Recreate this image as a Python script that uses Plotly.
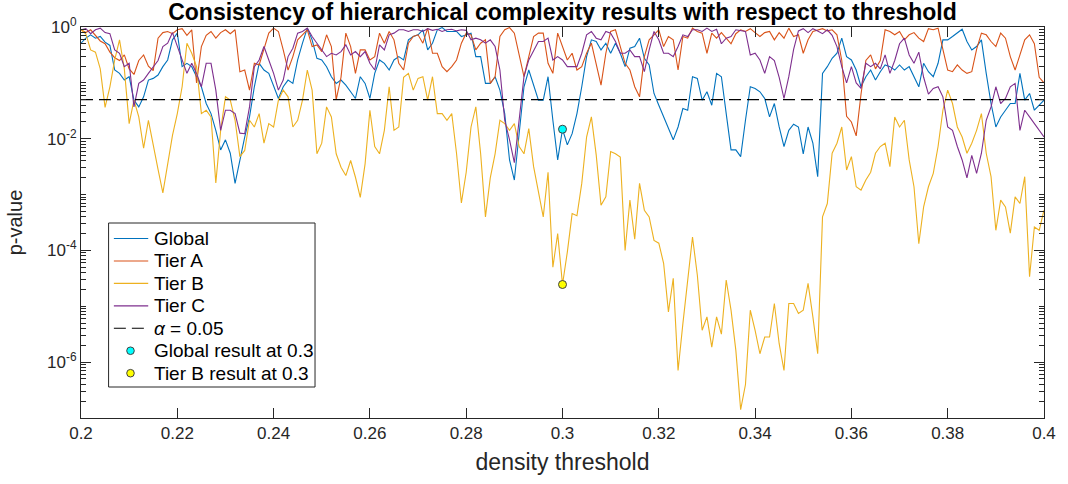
import numpy as np
import plotly.graph_objects as go

# density thresholds, step 0.001
threshold = np.round(np.linspace(0.2, 0.4, 201), 3)

# log10 of the p-values for each network level
global_log10p = [
    -0.29, -0.20, -0.14, -0.20, -0.17, -0.27, -0.33, -0.77, -0.83, -0.95,
    -0.89, -1.31, -1.43, -1.25, -0.95, -0.92, -0.86, -0.71, -0.59, -0.23,
    -0.11, -0.71, -0.65, -0.71, -0.89, -1.07, -1.37, -1.55, -1.85, -2.20,
    -2.02, -2.26, -2.80, -2.38,
    -1.97, -1.61, -1.07, -0.65, -0.77, -0.83, -1.07, -1.28, -1.07, -0.95,
    -1.01, -0.59, -0.29, -0.02, -0.23, -0.56, -0.59, -0.71, -0.89, -1.01,
    -0.95, -1.04, -1.16, -1.28, -0.89, -1.01, -1.28, -0.83, -0.59, -0.65,
    -0.77, -0.59, -0.53,
    -0.59, -0.23, -0.17, -0.14, -0.05, -0.41, -0.29, -0.05, -0.01, -0.08,
    -0.08, -0.08, -0.17, -0.14, -0.11, -0.53, -0.53, -1.01, -1.01, -0.89,
    -1.13, -1.55, -2.38, -2.74, -1.91, -1.07, -0.77, -1.04, -1.31, -1.31,
    -0.89, -1.67, -2.38,
    -1.83, -2.11, -1.91, -1.55, -1.07, -0.53, -0.23, -0.26, -0.41, -0.29,
    -0.47, -0.29, -0.47, -0.71, -0.38, -0.35, -0.20, -0.56, -0.68, -1.19,
    -1.40, -1.61, -1.79, -2.02, -1.79, -1.46, -1.49, -0.89, -0.92, -1.31,
    -1.16, -1.40, -0.83,
    -0.89, -1.55, -2.20, -2.20, -2.32, -1.67, -1.07, -1.10, -1.16, -1.28,
    -1.61, -1.37, -1.79, -2.14, -1.85, -1.74, -1.79, -2.27, -1.79, -2.08,
    -2.68, -0.83, -0.71, -0.56, -0.47, -0.20, -0.53, -0.59, -0.77, -1.07,
    -0.89, -0.77, -0.95,
    -0.80, -0.68, -0.71, -0.77, -0.68, -0.77, -0.71, -0.89, -1.07, -0.65,
    -0.80, -0.89, -0.65, -0.23, -0.23, -0.17, -0.11, -0.04, -0.26, -0.41,
    -0.35, -0.23, -0.83, -1.37, -1.79, -1.61, -1.49, -1.37, -1.37, -0.83,
    -1.31, -1.19, -1.49, -1.40, -1.31,
]

tier_a_log10p = [
    -0.05, -0.10, -0.05, -0.15, -0.25, -0.30, -0.45, -0.55, -0.60, -0.50,
    -0.75, -0.85, -0.60, -0.50, -0.70, -0.78, -0.20, -0.10, -0.08, -0.12,
    -0.05, -0.03, -0.15, -0.05, -1.00, -0.35, -0.15, -0.08, -0.20, -0.10,
    -0.05, -0.12, -0.05, -0.80,
    -0.77, -1.13, -0.65, -0.68, -0.41, -0.11, -0.02, -0.08, -0.41, -0.77,
    -0.53, -0.23, -0.14, -0.05, -0.35, -0.32, -0.44, -0.14, -0.35, -1.30,
    -0.90, -0.11, -0.35, -0.83, -0.41, -0.41, -0.59, -0.53, -0.11, -0.29,
    -0.08, -0.23, -0.65,
    -0.77, -0.29, -0.17, -0.14, -0.29, -0.02, -0.47, -0.47, -0.71, -0.80,
    -0.71, -0.59, -0.29, -0.11, -0.14, -0.41, -0.29, -0.23, -1.01, -0.89,
    -0.17, -0.05, -0.01, -0.11, -0.53, -0.89, -0.53, -0.17, -0.11, -0.11,
    -0.65, -0.83, -0.11,
    -0.35, -0.59, -0.47, -0.77, -0.71, -0.47, -0.29, -0.65, -1.04, -0.47,
    -0.08, -0.05, -0.35, -0.65, -0.77, -1.07, -1.25, -0.53, -0.23, -0.14,
    -0.05, -0.35, -0.17, -0.23, -0.77, -0.17, -0.20, -0.02, -0.08, -0.11,
    -0.47, -0.11, -0.20,
    -0.10, -0.20, -0.30, -0.12, -0.05, -0.08, -0.03, -0.10, -0.17, -0.10,
    -0.08, -0.23, -0.10, -0.20, -0.02, -0.17, -0.14, -0.47, -0.23, -0.08,
    -0.06, -0.03, -0.07, -0.05, -0.14, -0.60, -1.60, -1.70, -1.95, -1.20,
    -0.60, -0.50, -0.75,
    -0.60, -0.05, -0.08, -0.14, -0.08, -0.23, -0.14, -0.10, -0.20, -0.26,
    -0.03, -0.05, -0.02, -0.40, -0.77, -0.80, -0.68, -0.77, -0.83, -0.80,
    -0.40, -0.11, -0.14, -0.26, -0.35, -0.11, -0.20, -0.53, -0.77, -0.50,
    -0.23, -0.14, -0.30, -0.90, -1.00,
]

tier_b_log10p = [
    -0.05, -0.12, -0.41, -0.45, -0.75, -1.44, -1.07, -0.59, -0.23, -0.75,
    -1.73, -1.31, -1.61, -2.17, -1.67, -2.14, -2.55, -2.97, -2.47, -1.94,
    -1.55, -1.07, -0.29, -0.47, -0.71, -1.55, -1.49, -1.61, -2.79, -1.85,
    -1.25, -1.31, -1.67, -2.32,
    -2.21, -1.67, -1.79, -1.55, -2.08, -1.73, -1.79, -1.31, -1.13, -1.25,
    -1.79, -1.67, -1.31, -0.77, -1.13, -2.27, -2.08, -1.43, -1.61, -2.27,
    -2.51, -2.66, -2.39, -2.69, -3.05, -2.45, -1.49, -2.14, -2.27, -1.85,
    -1.07, -1.85, -1.79,
    -0.90, -0.83, -1.13, -0.92, -0.89, -1.31, -0.89, -1.55, -1.55, -1.67,
    -1.55, -2.27, -3.15, -2.60, -1.79, -1.43, -2.27, -3.40, -2.70, -2.27,
    -1.67, -1.73, -1.85, -1.73, -2.14, -2.27, -1.82, -2.50, -2.92, -3.40,
    -2.60, -4.30, -3.70,
    -4.61, -4.03, -3.34, -3.38, -2.80, -1.97, -1.61, -2.29, -3.19, -3.04,
    -2.23, -2.27, -2.33, -4.00, -3.10, -3.80, -2.80, -3.28, -3.40, -3.82,
    -3.87, -4.23, -5.10, -4.50, -6.15, -5.31, -4.59, -3.76, -4.44, -5.43,
    -5.19, -5.73, -5.19,
    -5.50, -4.53, -5.07, -5.79, -6.85, -6.40, -5.07, -5.43, -5.85, -5.55,
    -5.55, -4.95, -5.67, -6.15, -4.95, -4.95, -5.13, -5.07, -4.59, -5.19,
    -5.85, -3.40, -3.16, -2.26, -2.08, -1.79, -2.56, -2.32, -2.86, -2.92,
    -2.74, -2.60, -2.26,
    -2.14, -2.08, -2.50, -1.61, -1.79, -1.67, -2.38, -2.86, -3.88, -3.22,
    -2.86, -2.62, -2.14, -1.49, -1.13, -1.37, -1.79, -1.97, -2.26, -2.08,
    -1.85, -1.55, -2.26, -2.68, -3.64, -3.10, -3.22, -3.69, -3.04, -3.16,
    -2.68, -4.47, -3.58, -3.64, -3.28,
]

tier_c_log10p = [
    -0.05, -0.03, -0.12, -0.05, -0.02, -0.10, -0.12, -0.41, -0.47, -0.71,
    -0.65, -1.43, -1.01, -0.95, -0.83, -0.71, -0.60, -0.35, -0.29, -0.10,
    -0.35, -0.59, -0.83, -0.65, -0.83, -1.07, -0.65, -0.65, -1.13, -1.85,
    -1.49, -1.49, -1.55, -1.90,
    -1.91, -1.43, -0.71, -0.59, -0.35, -0.59, -0.83, -1.13, -0.95, -0.53,
    -0.38, -0.11, -0.08, -0.02, -0.17, -0.29, -0.41, -0.53, -0.47, -0.50,
    -0.44, -0.32, -0.50, -0.44, -0.53, -0.44, -0.65, -0.77, -0.32, -0.41,
    -0.14, -0.11, -0.05,
    -0.05, -0.08, -0.05, -0.05, -0.08, -0.03, -0.06, -0.04, -0.08, -0.05,
    -0.04, -0.07, -0.05, -0.06, -0.23, -0.20, -0.23, -0.29, -0.23, -0.35,
    -0.77, -1.67, -2.02, -2.43, -1.67, -0.89, -0.59, -0.41, -0.26, -0.26,
    -0.20, -0.59, -0.53,
    -0.59, -0.71, -0.71, -0.71, -0.47, -0.14, -0.08, -0.20, -0.23, -0.08,
    -0.11, -0.26, -0.47, -0.47, -0.41, -0.53, -0.53, -0.80, -0.41, -0.08,
    -0.23, -0.47, -0.47, -0.53, -0.35, -0.14, -0.17, -0.05, -0.05, -0.08,
    -0.02, -0.08, -0.04,
    -0.30, -0.20, -0.17, -0.05, -0.07, -0.08, -0.50, -0.47, -0.59, -0.83,
    -0.53, -0.60, -0.90, -1.28, -0.89, -0.40, -0.07, -0.03, -0.10, -0.03,
    -0.07, -0.12, -0.05, -0.15, -0.35, -0.71, -1.00, -0.71, -1.00, -1.10,
    -0.65, -0.71, -0.65,
    -0.75, -0.50, -0.83, -0.60, -0.30, -0.20, -0.50, -0.65, -0.45, -0.90,
    -1.20, -1.10, -1.07, -1.25, -1.79, -1.85, -2.14, -2.38, -2.70, -2.30,
    -2.62, -2.26, -1.67, -1.43, -1.07, -1.37, -1.28, -1.07, -1.01, -1.85,
    -1.49, -1.61, -1.73, -1.85, -1.97,
]

series_names = ["Global", "Tier A", "Tier B", "Tier C"]
series_colors = ["#0072BD", "#D95319", "#EDB120", "#7E2F8E"]
alpha_level = 0.05
alpha_label = "<i>\u03b1</i> = 0.05"
chosen_threshold = 0.3
result_labels = ["Global result at 0.3", "Tier B result at 0.3"]
result_series = [0, 2]
result_colors = ["#00FFFF", "#FFFF00"]
x_ticks = [0.2, 0.22, 0.24, 0.26, 0.28, 0.3, 0.32, 0.34, 0.36, 0.38, 0.4]
y_ticks = [1e-6, 1e-4, 1e-2, 1]
y_tick_text = ["10<sup>-6</sup>", "10<sup>-4</sup>", "10<sup>-2</sup>", "10<sup>0</sup>"]

p_values = [10.0 ** np.array(v) for v in
            (global_log10p, tier_a_log10p, tier_b_log10p, tier_c_log10p)]

LINE_W = 1.1
DASH = "12px,6px"

fig = go.Figure()
for name, color, p in zip(series_names, series_colors, p_values):
    fig.add_trace(go.Scatter(x=threshold, y=p, mode="lines", name=name,
                             line=dict(color=color, width=LINE_W)))

fig.add_trace(go.Scatter(x=[threshold[0], threshold[-1]],
                         y=[alpha_level, alpha_level], mode="lines",
                         name="alpha", line=dict(color="black", width=LINE_W, dash=DASH)))

idx = int(np.argmin(np.abs(threshold - chosen_threshold)))
for label, s, fill in zip(result_labels, result_series, result_colors):
    fig.add_trace(go.Scatter(x=[threshold[idx]], y=[p_values[s][idx]], mode="markers",
                             name=label,
                             marker=dict(color=fill, size=8,
                                         line=dict(color="#404040", width=1))))

# ---- figure geometry (pixels) ----
W, H = 1068, 484
ML, MR, MT, MB = 81, 20, 27, 66
PW, PH = W - ML - MR, H - MT - MB


def px(xp):
    return (xp - ML) / PW


def py(yp):
    return (H - MB - yp) / PH


# ---- boxed legend drawn in paper coordinates ----
shapes = []
annotations = []
box_l, box_r, box_t, box_b = 108.7, 316, 223, 387
shapes.append(dict(type="rect", xref="paper", yref="paper", layer="above",
                   x0=px(box_l), x1=px(box_r), y0=py(box_b), y1=py(box_t),
                   line=dict(color="#262626", width=1), fillcolor="white"))
row_y0, row_dy = 238.5, 22.45
sample_l, sample_r, text_x, marker_x = 114, 148.5, 152, 130.7
entries = [(n, "line", c, "solid") for n, c in zip(series_names, series_colors)]
entries.append((alpha_label, "line", "black", DASH))
entries += [(lab, "marker", col, None) for lab, col in zip(result_labels, result_colors)]
for i, (label, kind, color, dash) in enumerate(entries):
    yc = row_y0 + i * row_dy
    if kind == "line":
        shapes.append(dict(type="line", xref="paper", yref="paper", layer="above",
                           x0=px(sample_l), x1=px(sample_r), y0=py(yc), y1=py(yc),
                           line=dict(color=color, width=LINE_W, dash=dash)))
    else:
        shapes.append(dict(type="circle", xref="paper", yref="paper", layer="above",
                           xsizemode="pixel", ysizemode="pixel",
                           xanchor=px(marker_x), yanchor=py(yc),
                           x0=-3.8, x1=3.8, y0=-3.8, y1=3.8,
                           fillcolor=color, line=dict(color="#404040", width=1)))
    annotations.append(dict(text=label, xref="paper", yref="paper",
                            x=px(text_x), y=py(yc), xanchor="left", yanchor="middle",
                            showarrow=False,
                            font=dict(size=19, color="black",
                                      family="Liberation Sans, Arial, sans-serif")))

axis_col = "#262626"
minor_y = [m * 10.0 ** e for e in range(-8, 0) for m in range(2, 10)]
minor_y += [10.0 ** e for e in (-1, -3, -5, -7)]

fig.update_layout(
    width=W, height=H,
    margin=dict(l=ML, r=MR, t=MT, b=MB),
    paper_bgcolor="white", plot_bgcolor="white",
    font=dict(family="Liberation Sans, Arial, sans-serif", color=axis_col, size=17),
    title=dict(text="<b>Consistency of hierarchical complexity results with respect to threshold</b>",
               x=0.5, xref="paper", xanchor="center",
               y=1 - 12 / H, yanchor="middle",
               font=dict(size=23, color="black")),
    xaxis=dict(range=[0.2, 0.4], tickvals=x_ticks,
               ticks="inside", ticklen=10, tickcolor=axis_col,
               showline=True, linecolor=axis_col, linewidth=1, mirror="ticks",
               showgrid=False, zeroline=False,
               title=dict(text="density threshold", font=dict(size=23), standoff=11)),
    yaxis=dict(type="log", range=[-7.0, 0],
               tickvals=y_ticks, ticktext=y_tick_text,
               ticks="inside", ticklen=10, tickcolor=axis_col,
               minor=dict(tickmode="array", tickvals=minor_y, ticks="inside",
                          ticklen=5, tickcolor=axis_col),
               showline=True, linecolor=axis_col, linewidth=1, mirror="ticks",
               showgrid=False, zeroline=False,
               title=dict(text="p-value", font=dict(size=20), standoff=19)),
    showlegend=False,
    shapes=shapes,
    annotations=annotations,
)

fig.write_html("out.html")
